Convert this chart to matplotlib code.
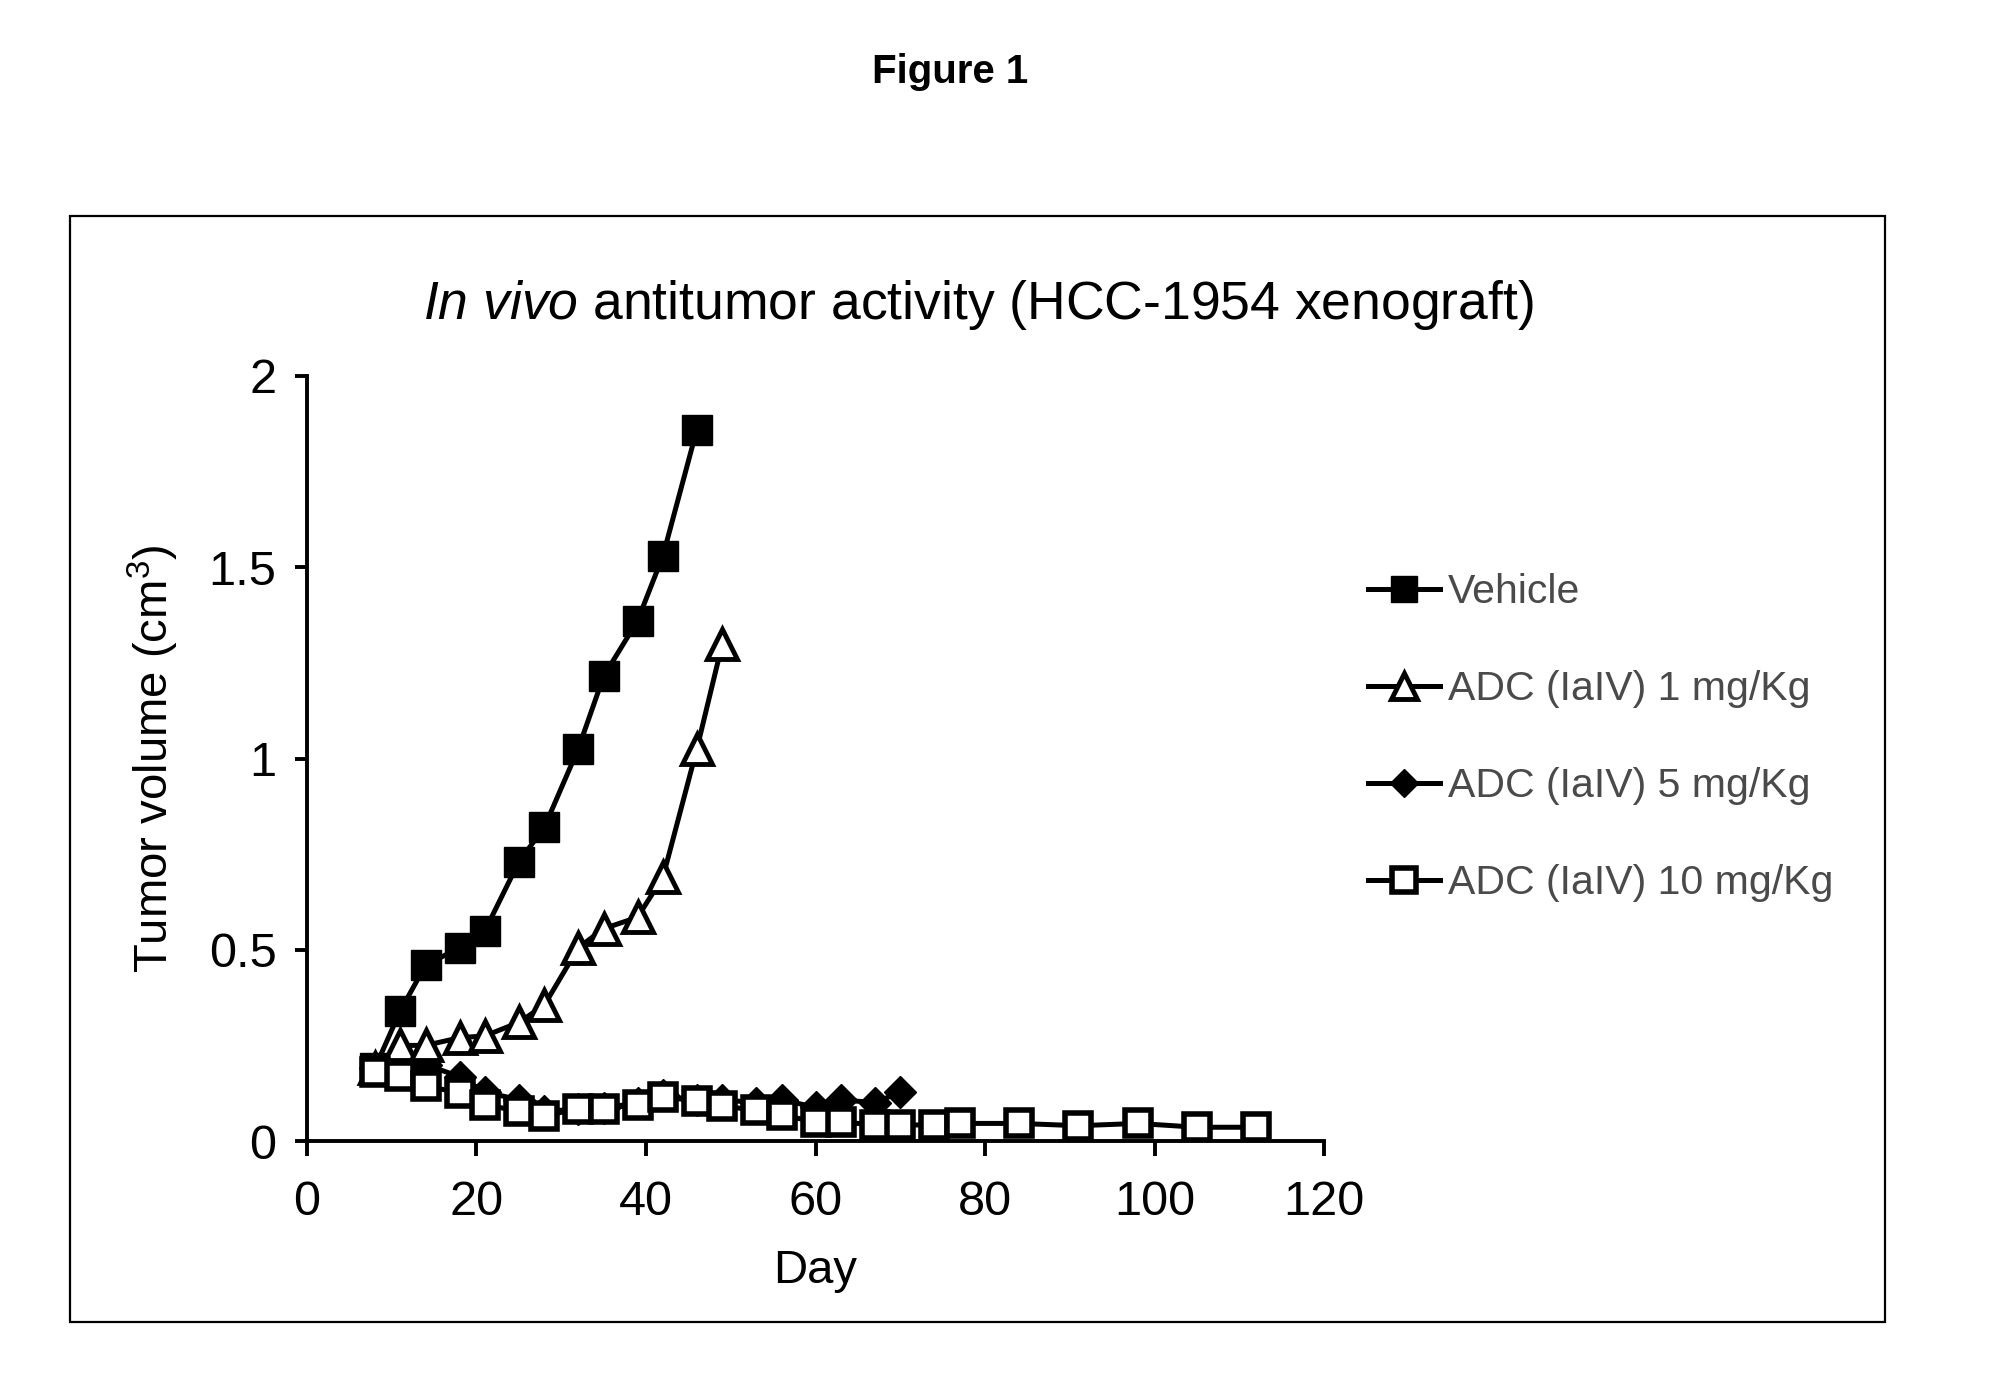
import matplotlib
matplotlib.use("Agg")
import matplotlib.pyplot as plt
from matplotlib.patches import Rectangle

# Tumor volume (cm3) per day
days_vehicle = [8, 11, 14, 18, 21, 25, 28, 32, 35, 39, 42, 46]
vol_vehicle = [0.19, 0.34, 0.46, 0.505, 0.55, 0.73, 0.82, 1.025, 1.215, 1.36, 1.53, 1.86]

days_1mg = [8, 11, 14, 18, 21, 25, 28, 32, 35, 39, 42, 46, 49]
vol_1mg = [0.19, 0.25, 0.25, 0.27, 0.275, 0.31, 0.355, 0.505, 0.555, 0.585, 0.69, 1.025, 1.30]

days_5mg = [8, 11, 14, 18, 21, 25, 28, 32, 35, 39, 42, 46, 49, 53, 56, 60, 63, 67, 70]
vol_5mg = [0.19, 0.21, 0.2, 0.168, 0.128, 0.108, 0.078, 0.083, 0.086, 0.10, 0.12, 0.106,
           0.108, 0.10, 0.108, 0.088, 0.108, 0.10, 0.128]

days_10mg = [8, 11, 14, 18, 21, 25, 28, 32, 35, 39, 42, 46, 49, 53, 56, 60, 63, 67, 70,
             74, 77, 84, 91, 98, 105, 112]
vol_10mg = [0.18, 0.17, 0.145, 0.125, 0.095, 0.078, 0.065, 0.085, 0.085, 0.095, 0.115,
            0.105, 0.092, 0.08, 0.068, 0.05, 0.05, 0.042, 0.042, 0.042, 0.046, 0.046,
            0.04, 0.046, 0.036, 0.036]

labels = ["Vehicle", "ADC (IaIV) 1 mg/Kg", "ADC (IaIV) 5 mg/Kg", "ADC (IaIV) 10 mg/Kg"]

plt.rcParams["font.family"] = ["Liberation Sans", "DejaVu Sans"]
plt.rcParams["mathtext.fontset"] = "custom"
plt.rcParams["mathtext.rm"] = "Liberation Sans"
plt.rcParams["mathtext.it"] = "Liberation Sans:italic"

fig = plt.figure(figsize=(19.92, 13.92), dpi=100)
ax = fig.add_axes([0.1541, 0.1803, 0.5106, 0.5496])

lw = 3.6
ax.plot(days_vehicle, vol_vehicle, color="black", lw=lw, marker="s", ms=21,
        mfc="black", mec="black", label=labels[0], zorder=3)
ax.plot(days_1mg, vol_1mg, color="black", lw=lw, marker="^", ms=21, mfc="white",
        mec="black", mew=3.5, label=labels[1], zorder=4)
ax.plot(days_5mg, vol_5mg, color="black", lw=lw, marker="D", ms=16, mfc="black",
        mec="black", label=labels[2], zorder=2)
ax.plot(days_10mg, vol_10mg, color="black", lw=lw, marker="s", ms=19, mfc="white",
        mec="black", mew=4, label=labels[3], zorder=5)

ax.set_xlim(0, 120)
ax.set_ylim(0, 2)
ax.set_xticks(range(0, 121, 20))
ax.set_yticks([0, 0.5, 1, 1.5, 2])
ax.set_yticklabels(["0", "0.5", "1", "1.5", "2"])
for s in ["top", "right"]:
    ax.spines[s].set_visible(False)
for s in ["left", "bottom"]:
    ax.spines[s].set_linewidth(2.8)
ax.tick_params(axis="both", direction="out", width=2.8, labelsize=35)
ax.tick_params(axis="y", length=9, pad=13)
ax.tick_params(axis="x", length=11, pad=17)

ax.set_xlabel("Day", fontsize=34, labelpad=17)
ax.set_ylabel("Tumor volume (cm$^3$)", fontsize=34, labelpad=20)

fig.text(978 / 1992, 1 - 305 / 1392,
         r"$\it{In\ vivo}$ antitumor activity (HCC-1954 xenograft)",
         fontsize=38.5, ha="center", va="center")

leg = ax.legend(loc="center left", bbox_to_anchor=(1.007, 0.527), frameon=False,
                fontsize=29.5, handlelength=1.75, handletextpad=0.2, labelspacing=1.44,
                markerscale=0.9)
for t in leg.get_texts():
    t.set_color("#4a4a4a")

fig.patches.append(Rectangle((70 / 1992, 1 - 1322 / 1392), 1815 / 1992, 1106 / 1392,
                             transform=fig.transFigure, fill=False, lw=1.6,
                             edgecolor="black"))

fig.text(950 / 1992, 1 - 72 / 1392, "Figure 1", ha="center", va="center",
         fontsize=29, fontweight="bold", fontstretch="condensed",
         family=["Liberation Sans Narrow", "Liberation Sans", "DejaVu Sans"])

fig.savefig("out.png", dpi=100, facecolor="white")
